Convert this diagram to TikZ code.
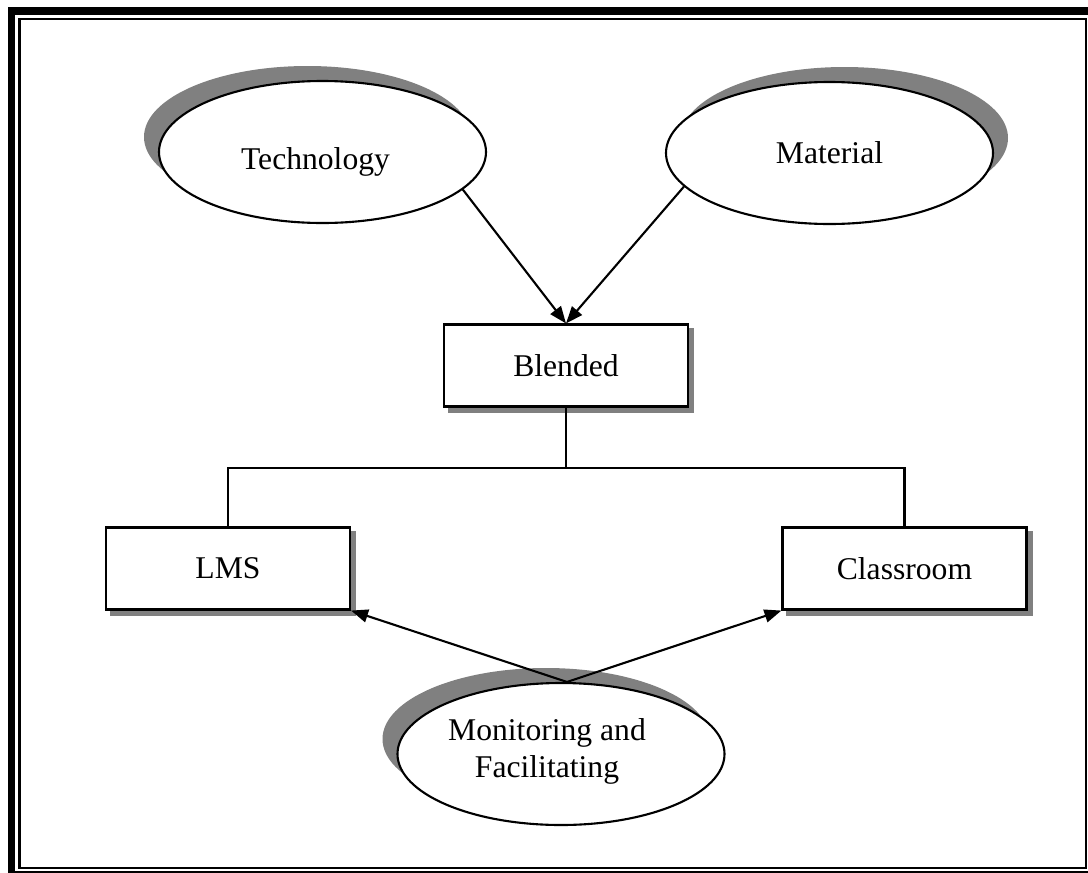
\documentclass[tikz,border=0pt]{standalone}
\usepackage{fontspec}
\setmainfont{Liberation Serif}
\usetikzlibrary{shapes.geometric,arrows.meta}

\tikzstyle{block} = [rectangle, draw, fill=white, line width=1.2pt, minimum width=4.88cm, minimum height=1.64cm, text centered]
\tikzstyle{oval} = [ellipse, draw, fill=white, line width=1.2pt, minimum width=6.54cm, minimum height=2.84cm, inner sep=0pt, align=center]
\tikzstyle{line} = [draw, -{Triangle[length=0.34cm,width=0.26cm]}, line width=1.2pt]
\tikzstyle{link} = [draw, line width=1.2pt]
\tikzstyle{shade} = [fill=black!50]
\pgfdeclarelayer{background}
\pgfsetlayers{background,main}

\begin{document}
\begin{tikzpicture}[node distance = 2cm, font=\fontsize{18}{21.5}\selectfont]

    % page frame
    \useasboundingbox (0,0) rectangle (21.76,-17.46);
    \clip (0,0) rectangle (21.76,-17.46);
    \draw[line width=0.15cm] (0.23,-0.22) rectangle (21.92,-17.5);
    \draw[line width=0.045cm] (0.39,-0.38) rectangle (21.72,-17.36);

    % Blended
    \node [block] (blended) at (11.32,-7.31) {Blended};
    % Technology
    \node [oval, above of=blended, node distance=4.27cm, xshift=-4.87cm,
            label={[yshift=-0.2cm, xshift=-0.14cm]center:Technology}
            ] (tech) {};
    % Material
    \node [oval, above of=blended, node distance=4.25cm,
            xshift=5.27cm] (material) {Material};
    % LMS
    \node [block, below of=blended, node distance=4.06cm,
            xshift=-6.76cm] (lms) {LMS};
    % Classroom
    \node [block, below of=blended, node distance=4.06cm,
            xshift=6.77cm] (classroom) {Classroom};
    % Monitoring and Facilitating
    \node [oval, below of=blended, node distance=7.77cm, xshift=-0.1cm,
            label={[align=center, xshift=-0.28cm, yshift=0.05cm]center:Monitoring and\\Facilitating}
            ] (monitor) {};

    % Path
    \path[line](tech.-15)--(blended.north);
    \path[line](material.193)--(blended.north);
    \path (blended.south) ++(0,-1.2) coordinate (fork);
    \path[link](blended.south)--(fork);
    \path[link](fork)-|(lms.north);
    \path[link](fork)-|(classroom.north);
    \path[line]([xshift=0.12cm]monitor.north)--(lms.south east);
    \path[line]([xshift=0.12cm]monitor.north)--(classroom.south west);

    % shadows
    \begin{pgfonlayer}{background}
        \path[shade] ([xshift=-0.3cm,yshift=0.3cm]tech.center)
            ellipse (3.27cm and 1.42cm);
        \path[shade] ([xshift=0.3cm,yshift=0.3cm]material.center)
            ellipse (3.27cm and 1.42cm);
        \path[shade] ([xshift=-0.3cm,yshift=0.3cm]monitor.center)
            ellipse (3.27cm and 1.42cm);
        \path[shade] ([xshift=0.1cm,yshift=-0.1cm]blended.south west)
            rectangle ([xshift=0.1cm,yshift=-0.1cm]blended.north east);
        \path[shade] ([xshift=0.1cm,yshift=-0.1cm]lms.south west)
            rectangle ([xshift=0.1cm,yshift=-0.1cm]lms.north east);
        \path[shade] ([xshift=0.1cm,yshift=-0.1cm]classroom.south west)
            rectangle ([xshift=0.1cm,yshift=-0.1cm]classroom.north east);
    \end{pgfonlayer}

\end{tikzpicture}
\end{document}
